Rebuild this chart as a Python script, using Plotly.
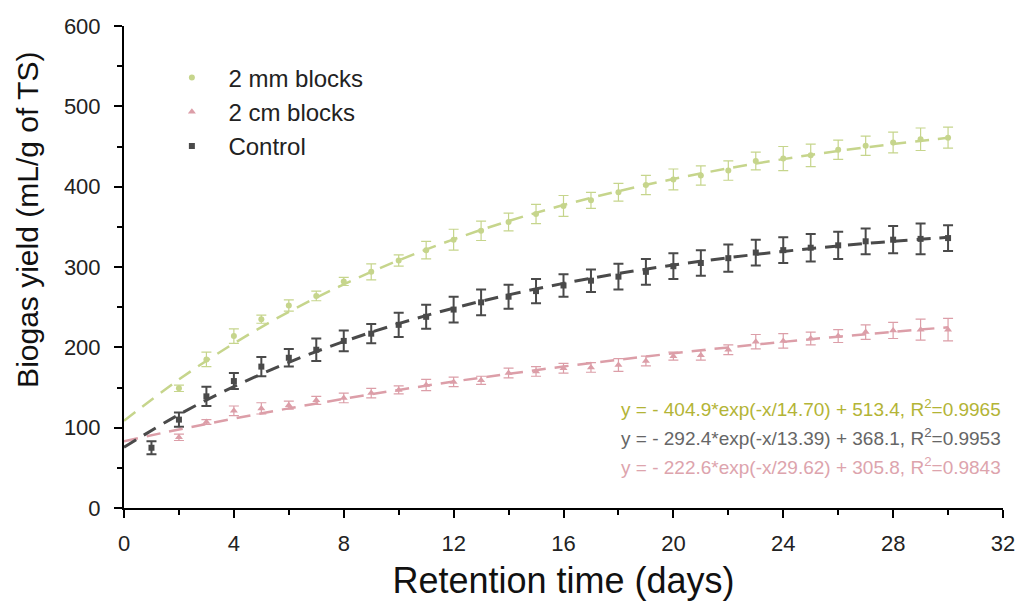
import plotly.graph_objects as go

# ---- data ----
days_ctrl = list(range(1, 31))
days_blk = list(range(2, 31))

mm2_y = [149, 185, 214, 235, 252, 264, 282, 294, 308, 321, 334, 345, 356, 366, 376,
         383, 393, 402, 409, 414, 420, 432, 435, 439, 446, 451, 455, 459, 461]
mm2_err = [4, 9, 9, 5, 7, 6, 5, 10, 7, 11, 13, 12, 11, 12, 13,
           10, 11, 12, 13, 12, 12, 11, 15, 14, 12, 12, 13, 14, 13]

cm2_y = [88, 107, 121, 124, 128, 134, 137, 143, 147, 153, 157, 159, 168, 170, 174,
         175, 178, 183, 189, 190, 197, 207, 208, 211, 214, 219, 221, 222, 222]
cm2_err = [4, 3, 6, 7, 5, 5, 6, 6, 5, 7, 6, 5, 6, 6, 6,
           6, 8, 6, 5, 6, 6, 9, 9, 8, 8, 9, 10, 13, 14]

ctrl_y = [75, 110, 139, 158, 176, 187, 197, 208, 217, 228, 238, 247, 256, 263, 270,
          277, 283, 288, 294, 301, 305, 311, 318, 321, 324, 327, 332, 334, 335, 336]
ctrl_err = [8, 9, 12, 10, 12, 11, 14, 13, 12, 15, 15, 16, 16, 15, 15,
            14, 14, 16, 16, 16, 16, 17, 16, 16, 17, 17, 16, 17, 19, 16]

# fitted curves (dashed)
fit_x = [0, 2, 4, 6, 8, 10, 12, 14, 16, 18, 20, 22, 24, 26, 28, 30]
fit_mm2 = [108.5, 160.0, 204.9, 244.2, 278.4, 308.3, 334.4, 357.2, 377.1, 394.4,
           409.5, 422.8, 434.3, 444.4, 453.1, 460.8]
fit_ctrl = [75.7, 116.3, 151.2, 181.3, 207.2, 229.5, 248.8, 265.3, 279.6, 291.9,
            302.4, 311.6, 319.4, 326.2, 332.0, 337.0]
fit_cm2 = [83.2, 97.7, 111.3, 124.0, 135.9, 147.0, 157.4, 167.0, 176.1, 184.6,
           192.5, 199.9, 206.8, 213.3, 219.3, 225.0]

eq_texts = [
    "y = - 404.9*exp(-x/14.70) + 513.4, R<sup>2</sup>=0.9965",
    "y = - 292.4*exp(-x/13.39) + 368.1, R<sup>2</sup>=0.9953",
    "y = - 222.6*exp(-x/29.62) + 305.8, R<sup>2</sup>=0.9843",
]
eq_y = [124.5, 88.4, 52.3]

GREEN = "#c6d58c"
GREEN_TXT = "#b3b436"
PINK = "#dc9ea8"
PINK_TXT = "#dda4ad"
GRAY = "#4a4a4a"
GRAY_TXT = "#666666"

FONT = "Liberation Sans, Arial, sans-serif"

fig = go.Figure()

fig.add_trace(go.Scatter(
    x=days_blk, y=mm2_y, mode="markers", name="2 mm blocks",
    marker=dict(symbol="circle", size=6, color=GREEN),
    error_y=dict(type="data", array=mm2_err, color=GREEN, thickness=1.2, width=5),
))
fig.add_trace(go.Scatter(
    x=days_blk, y=cm2_y, mode="markers", name="2 cm blocks",
    marker=dict(symbol="triangle-up", size=7, color=PINK),
    error_y=dict(type="data", array=cm2_err, color=PINK, thickness=1.2, width=5),
))
fig.add_trace(go.Scatter(
    x=days_ctrl, y=ctrl_y, mode="markers", name="Control",
    marker=dict(symbol="square", size=6, color=GRAY),
    error_y=dict(type="data", array=ctrl_err, color=GRAY, thickness=2, width=5),
))

for yv, col, w in [(fit_mm2, GREEN, 2.5), (fit_cm2, PINK, 2.5), (fit_ctrl, GRAY, 3)]:
    fig.add_trace(go.Scatter(
        x=fit_x, y=yv, mode="lines", showlegend=False, hoverinfo="skip",
        line=dict(color=col, width=w, dash="14px,9px", shape="spline"),
    ))

for txt, yy, col in zip(eq_texts, eq_y, [GREEN_TXT, GRAY_TXT, PINK_TXT]):
    fig.add_annotation(
        x=1.0, xref="paper", y=yy, yref="y", text=txt, showarrow=False,
        xanchor="right", yanchor="middle", font=dict(size=19, color=col, family=FONT),
    )

# y-axis title (placed as in the reference, above centre)
fig.add_annotation(
    x=-0.1105, xref="paper", y=0.5975, yref="paper", text="Biogas yield (mL/g of TS)",
    textangle=-90, showarrow=False, xanchor="center", yanchor="middle",
    font=dict(size=30, color="#111111", family=FONT),
)

fig.update_layout(
    width=1019, height=601,
    margin=dict(l=124, r=16, t=26, b=93, autoexpand=False),
    paper_bgcolor="white", plot_bgcolor="white",
    font=dict(family=FONT, color="#222222"),
    showlegend=True,
    legend=dict(
        x=0.0357, y=0.939, xanchor="left", yanchor="top",
        font=dict(size=24, color="#222222", family=FONT),
        bgcolor="rgba(0,0,0,0)", itemwidth=63, tracegroupgap=0,
    ),
    xaxis=dict(
        range=[0, 32], dtick=4, tick0=0, automargin=False,
        showline=True, linecolor="black", linewidth=2,
        ticks="outside", ticklen=8, tickwidth=2, tickcolor="black",
        minor=dict(dtick=2, ticks="outside", ticklen=5, tickwidth=2, tickcolor="black"),
        showgrid=False, zeroline=False, ticklabelstandoff=7,
        tickfont=dict(size=22, color="#222222"),
        title=dict(text="Retention time (days)", font=dict(size=36, color="#111111"), standoff=14),
    ),
    yaxis=dict(
        range=[0, 600], dtick=100, tick0=0, automargin=False,
        showline=True, linecolor="black", linewidth=2,
        ticks="outside", ticklen=8, tickwidth=2, tickcolor="black",
        minor=dict(dtick=50, ticks="outside", ticklen=5, tickwidth=2, tickcolor="black"),
        showgrid=False, zeroline=False, ticklabelstandoff=9,
        tickfont=dict(size=22, color="#222222"),
    ),
)

fig.write_html("out.html")
